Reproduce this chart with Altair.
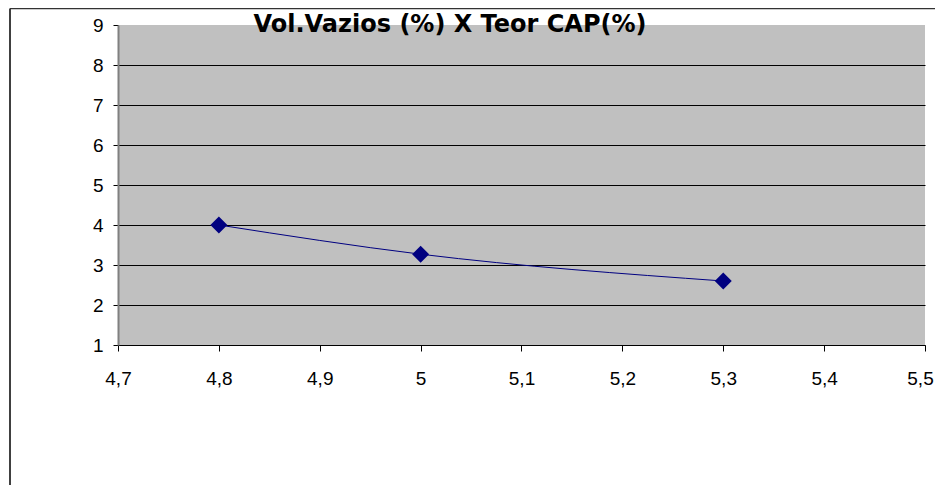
import altair as alt
import pandas as pd

# data
teor_cap = [4.8, 5.0, 5.3]
vol_vazios = [4.0, 3.27, 2.6]
x_ticks = [4.7, 4.8, 4.9, 5.0, 5.1, 5.2, 5.3, 5.4, 5.5]
y_ticks = [1, 2, 3, 4, 5, 6, 7, 8, 9]
title_text = ["Vol.Vazios (%) X  Teor CAP(%)"]

df = pd.DataFrame({"teor": teor_cap, "vv": vol_vazios})
one = pd.DataFrame({"t": title_text})

PLOT_W, PLOT_H = 807, 320
NAVY = "#000080"

x_enc = alt.X(
    "teor:Q",
    scale=alt.Scale(domain=[x_ticks[0], x_ticks[-1]], nice=False, zero=False),
    axis=alt.Axis(
        values=x_ticks, title=None, grid=False,
        labelExpr="replace(format(datum.value, '.1~f'), '.', ',')",
        domainColor="black", domainWidth=1, tickColor="black", tickSize=6,
        labelFontSize=19, labelFont="Liberation Sans", labelColor="black",
        labelPadding=18, labelFlush=False, labelOverlap=False, labelBound=False,
        labelOffset={"condition": {"test": "datum.value > 5.45", "value": -5}, "value": 0},
    ),
)
y_enc = alt.Y(
    "vv:Q",
    scale=alt.Scale(domain=[y_ticks[0], y_ticks[-1]], nice=False, zero=False),
    axis=alt.Axis(
        values=y_ticks, title=None, grid=True,
        gridColor={"condition": {"test": "datum.value == 9", "value": "transparent"}, "value": "black"},
        gridWidth=1,
        domainColor="#808080", domainWidth=2, tickColor="black", tickSize=5,
        labelFontSize=19, labelFont="Liberation Sans", labelColor="black",
        labelPadding=10, labelFlush=False, labelOverlap=False, labelBound=False,
    ),
)

base = alt.Chart(df).encode(x=x_enc, y=y_enc)
line = base.mark_line(color=NAVY, strokeWidth=1, interpolate="monotone")
pts = base.mark_point(shape="diamond", size=290, filled=True, color=NAVY, opacity=1)

title = alt.Chart(one).mark_text(
    font="DejaVu Sans", fontWeight="bold", fontSize=24, color="black",
    align="center", baseline="alphabetic",
).encode(text="t:N", x=alt.value(332), y=alt.value(7))

border_left = alt.Chart(one).mark_rule(color="black", strokeWidth=1.5).encode(
    x=alt.value(-108), y=alt.value(-16.5), y2=alt.value(480)
)
border_top = alt.Chart(one).mark_rule(color="#333333", strokeWidth=1.5).encode(
    x=alt.value(-108), x2=alt.value(830), y=alt.value(-16.5)
)

chart = alt.layer(line, pts, title, border_left, border_top).properties(
    width=PLOT_W, height=PLOT_H,
    autosize="none",
    padding={"left": 110, "top": 17, "right": 10, "bottom": 140},
    background="white",
).configure_view(fill="#C0C0C0", stroke=None)

chart.save("out.html", embed_options={"renderer": "svg", "actions": False})
